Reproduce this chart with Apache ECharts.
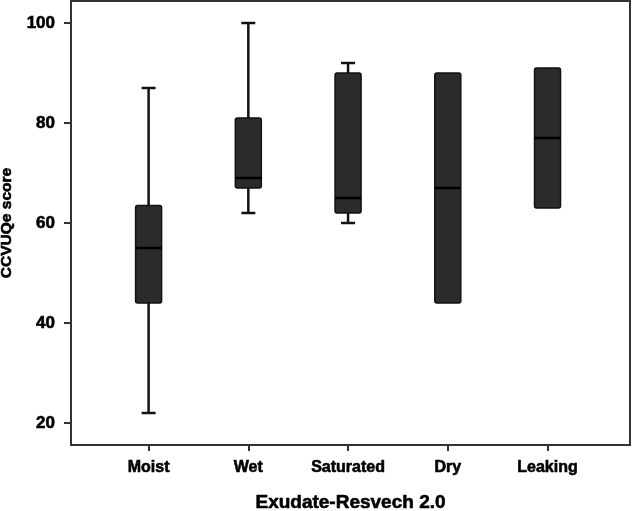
<!DOCTYPE html>
<html>
<head>
<meta charset="utf-8">
<script src="https://cdn.jsdelivr.net/npm/echarts@6/dist/echarts.min.js"></script>
<style>html,body{margin:0;padding:0;background:#fff}#c{width:632px;height:511px}</style>
</head>
<body>
<div id="c"></div>
<script>
const categories = ['Moist', 'Wet', 'Saturated', 'Dry', 'Leaking'];
const whiskerLow = [22, 62, 60, 44, 63];
const q1Values = [44, 67, 62, 44, 63];
const medians = [55, 69, 65, 67, 77];
const q3Values = [63.5, 81, 90, 90, 91];
const whiskerHigh = [87, 100, 92, 90, 91];
const yTicks = [20, 40, 60, 80, 100];
const xTicks = [1, 2, 3, 4, 5];

const data = categories.map((c, i) => [i + 1, whiskerLow[i], q1Values[i], medians[i], q3Values[i], whiskerHigh[i]]);

const FONT = 'Liberation Sans';
const heavy = {fontFamily: FONT, fontWeight: 'bold', color: '#000', textBorderColor: '#000', textBorderWidth: 0.6};
const chart = echarts.init(document.getElementById('c'), null, {renderer: 'canvas'});
chart.setOption({
  animation: false,
  grid: {left: 71, right: 2, top: 1, bottom: 66, show: true, borderColor: '#333', borderWidth: 2, outerBoundsMode: 'none', containLabel: false},
  xAxis: {
    type: 'value', min: 0.222, max: 5.827,
    name: 'Exudate-Resvech 2.0', nameLocation: 'middle', nameGap: 48,
    nameTextStyle: Object.assign({fontSize: 19}, heavy),
    splitLine: {show: false},
    axisLine: {show: true, onZero: false, lineStyle: {color: '#333', width: 2}},
    axisTick: {show: true, length: 6, customValues: xTicks, lineStyle: {color: '#333', width: 2}},
    axisLabel: Object.assign({customValues: xTicks, margin: 15, fontSize: 16,
      formatter: v => categories[Math.round(v) - 1] || ''}, heavy)
  },
  yAxis: {
    type: 'value', min: 15.6, max: 104.4,
    name: 'CCVUQe score', nameLocation: 'middle', nameGap: 56, nameRotate: 90,
    nameTextStyle: Object.assign({fontSize: 15.5}, heavy),
    splitLine: {show: false},
    axisLine: {show: true, lineStyle: {color: '#333', width: 2}},
    axisTick: {show: true, length: 7, customValues: yTicks, lineStyle: {color: '#333', width: 2}},
    axisLabel: Object.assign({customValues: yTicks, margin: 16, fontSize: 17}, heavy)
  },
  series: [{
    type: 'custom',
    data: data,
    encode: {x: 0, y: [1, 2, 3, 4, 5]},
    renderItem: function (params, api) {
      const x = api.value(0);
      const pLow = api.coord([x, api.value(1)]);
      const pQ1 = api.coord([x, api.value(2)]);
      const pMed = api.coord([x, api.value(3)]);
      const pQ3 = api.coord([x, api.value(4)]);
      const pHigh = api.coord([x, api.value(5)]);
      const cx = pMed[0];
      const bw = 26, cw = 14;
      const line = {stroke: '#111', lineWidth: 2.5};
      const children = [];
      if (api.value(1) < api.value(2)) {
        children.push({type: 'line', shape: {x1: cx, y1: pQ1[1], x2: cx, y2: pLow[1]}, style: line});
        children.push({type: 'line', shape: {x1: cx - cw / 2, y1: pLow[1], x2: cx + cw / 2, y2: pLow[1]}, style: line});
      }
      if (api.value(5) > api.value(4)) {
        children.push({type: 'line', shape: {x1: cx, y1: pQ3[1], x2: cx, y2: pHigh[1]}, style: line});
        children.push({type: 'line', shape: {x1: cx - cw / 2, y1: pHigh[1], x2: cx + cw / 2, y2: pHigh[1]}, style: line});
      }
      children.push({type: 'rect', shape: {x: cx - bw / 2, y: pQ3[1], width: bw, height: pQ1[1] - pQ3[1], r: 2},
        style: {fill: '#2b2b2b', stroke: '#111', lineWidth: 1.5}});
      children.push({type: 'line', shape: {x1: cx - bw / 2, y1: pMed[1], x2: cx + bw / 2, y2: pMed[1]}, style: {stroke: '#000', lineWidth: 2.5}});
      return {type: 'group', children: children};
    }
  }]
});
</script>
</body>
</html>
